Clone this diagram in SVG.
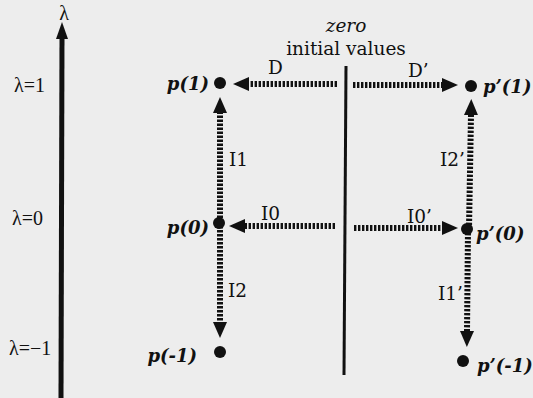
<svg xmlns="http://www.w3.org/2000/svg" width="533" height="398" viewBox="0 0 533 398">
<style>
.t{font-family:"DejaVu Serif","Liberation Serif",serif;font-size:18.5px;fill:#111}
.l{font-family:"Liberation Serif","DejaVu Serif",serif;font-size:20px;fill:#111}
.p{font-family:"DejaVu Serif","Liberation Serif",serif;font-size:18px;font-weight:bold;font-style:italic;fill:#111}
.c{fill:none;stroke:#111;stroke-width:6;stroke-dasharray:2.4 1.6}
.dot{fill:#111}
</style>
<defs>
<marker id="ah" markerUnits="userSpaceOnUse" markerWidth="18" markerHeight="18" refX="0" refY="8" orient="auto" viewBox="0 0 18 16">
<path d="M0,1 L16,8 L0,15 z" fill="#111"/>
</marker>
</defs>
<rect width="533" height="398" fill="#ededed"/>
<g id="lambda-axis">
<line x1="61" y1="398" x2="62" y2="36" stroke="#111" stroke-width="5"/>
<polygon points="62,22 68,39 56,39" fill="#111"/>
<text class="l" x="64" y="20" text-anchor="middle" font-size="18">λ</text>
<text class="l" x="14" y="92">λ=1</text>
<text class="l" x="12" y="225">λ=0</text>
<text class="l" x="9" y="355">λ=−1</text>
</g>
<g id="zero-initial-values">
<line x1="346" y1="66" x2="344" y2="375" stroke="#111" stroke-width="3"/>
<text class="t" x="346" y="32" text-anchor="middle" font-style="italic">zero</text>
<text class="t" x="346" y="55" text-anchor="middle">initial values</text>
</g>
<g id="connectors">
<line class="c" x1="337" y1="84" x2="249" y2="84" marker-end="url(#ah)"/>
<line class="c" x1="353" y1="85" x2="442" y2="85" marker-end="url(#ah)"/>
<line class="c" x1="220" y1="222" x2="220" y2="113" marker-end="url(#ah)"/>
<line class="c" x1="335" y1="226" x2="245" y2="226" marker-end="url(#ah)"/>
<line class="c" x1="354" y1="228" x2="442" y2="228" marker-end="url(#ah)"/>
<line class="c" x1="469" y1="229" x2="471" y2="115" marker-end="url(#ah)"/>
<line class="c" x1="220" y1="222" x2="220" y2="322" marker-end="url(#ah)"/>
<line class="c" x1="468" y1="229" x2="467" y2="331" marker-end="url(#ah)"/>
<text class="t" x="268" y="74">D</text>
<text class="t" x="408" y="77">D’</text>
<text class="t" x="229" y="166">I1</text>
<text class="t" x="261" y="220">I0</text>
<text class="t" x="407" y="223">I0’</text>
<text class="t" x="440" y="166">I2’</text>
<text class="t" x="228" y="297">I2</text>
<text class="t" x="438" y="300">I1’</text>
</g>
<g id="p1"><circle class="dot" cx="220" cy="83" r="6"/><text class="p" x="209" y="90" text-anchor="end">p(1)</text></g>
<g id="pp1"><circle class="dot" cx="471" cy="86" r="6"/><text class="p" x="483" y="93">p’(1)</text></g>
<g id="p0"><circle class="dot" cx="219" cy="223" r="6"/><text class="p" x="209" y="234" text-anchor="end">p(0)</text></g>
<g id="pp0"><circle class="dot" cx="467" cy="229" r="6"/><text class="p" x="476" y="240">p’(0)</text></g>
<g id="pm1"><circle class="dot" cx="220" cy="352" r="6"/><text class="p" x="197" y="362" text-anchor="end">p(-1)</text></g>
<g id="ppm1"><circle class="dot" cx="463" cy="361" r="6"/><text class="p" x="477" y="372" font-size="16.5">p’(-1)</text></g>
</svg>
